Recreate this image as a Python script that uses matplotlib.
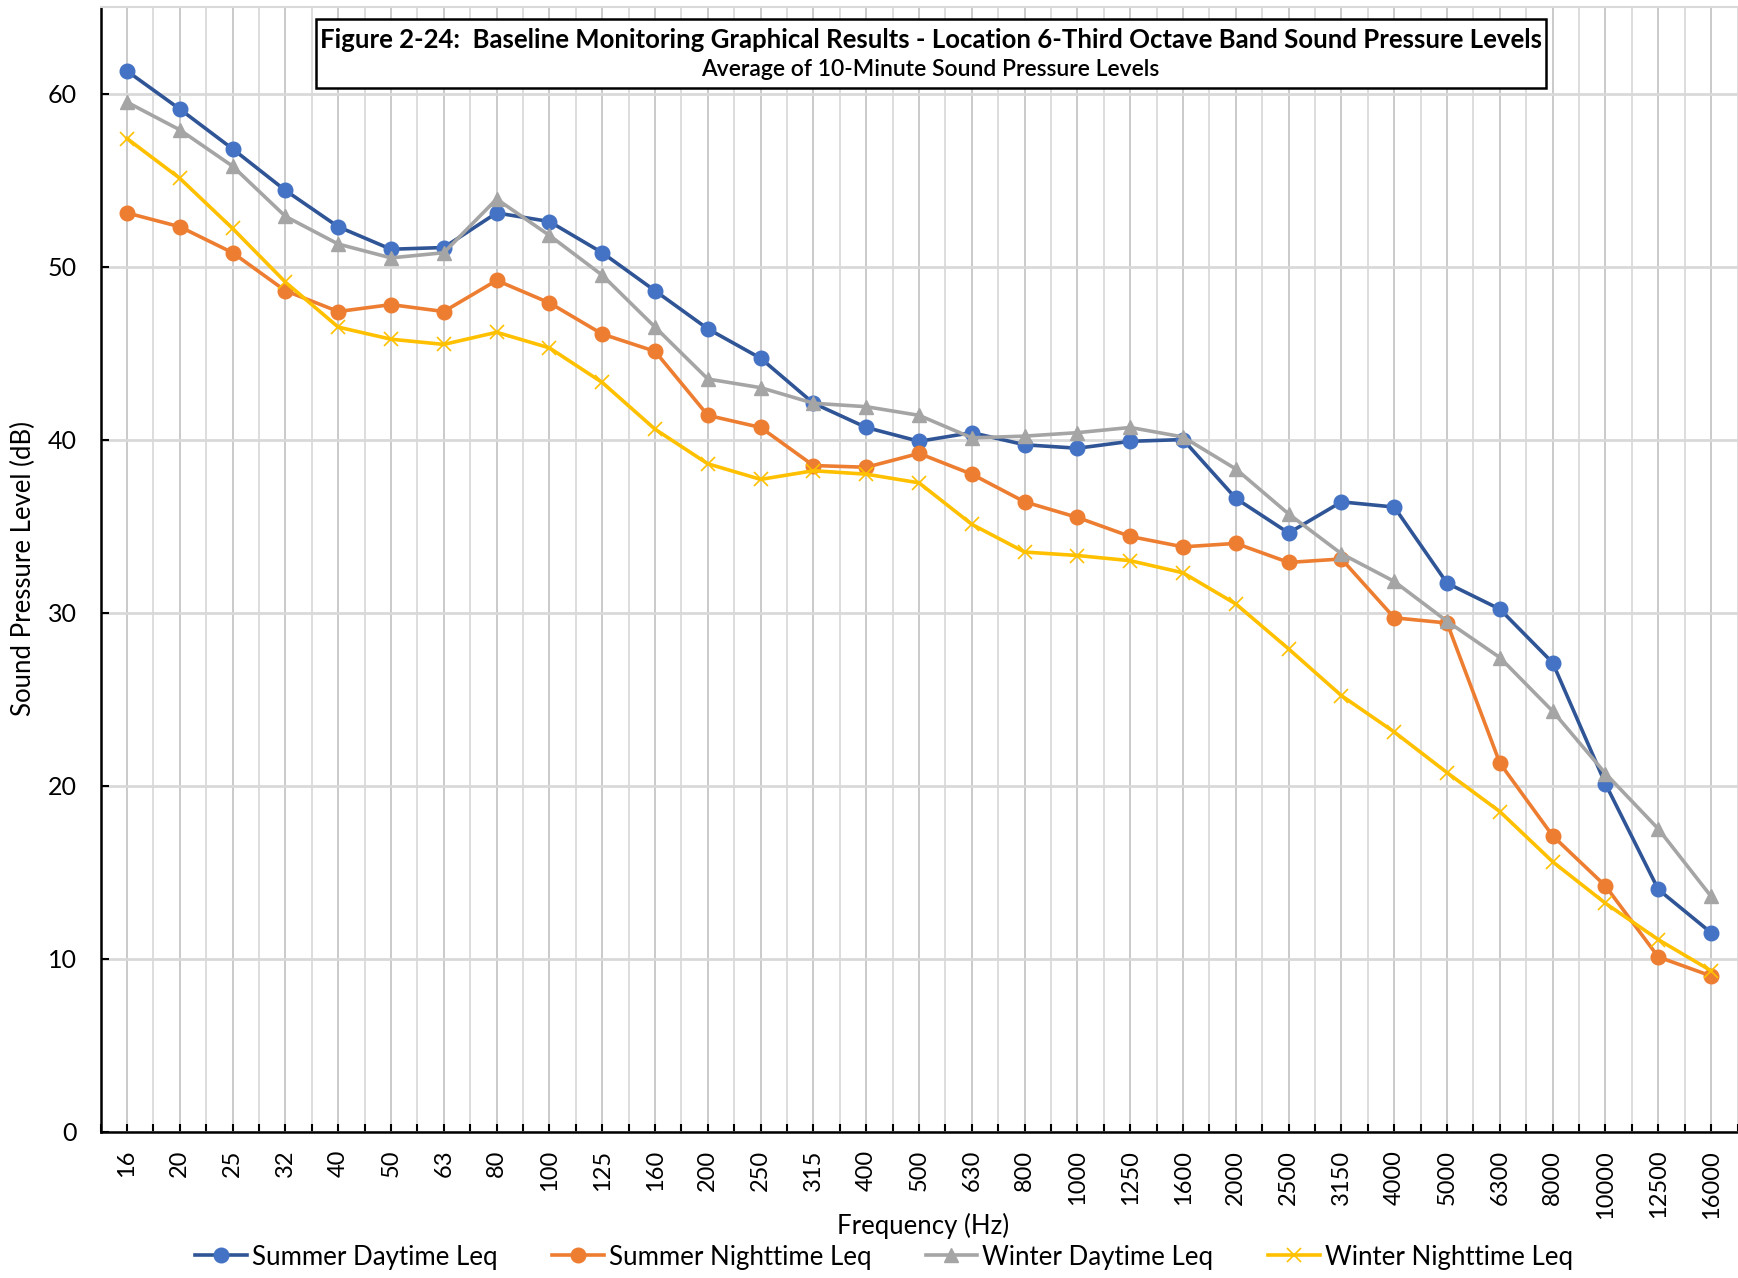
import matplotlib
matplotlib.use("Agg")
import matplotlib.pyplot as plt
from matplotlib.patches import Rectangle
import numpy as np

plt.rcParams['font.family'] = ['Lato', 'DejaVu Sans']

frequencies = ["16", "20", "25", "32", "40", "50", "63", "80", "100", "125", "160", "200",
               "250", "315", "400", "500", "630", "800", "1000", "1250", "1600", "2000",
               "2500", "3150", "4000", "5000", "6300", "8000", "10000", "12500", "16000"]

summer_day = [61.3, 59.1, 56.8, 54.4, 52.3, 51.0, 51.1, 53.1, 52.6, 50.8, 48.6, 46.4,
              44.7, 42.1, 40.7, 39.9, 40.4, 39.7, 39.5, 39.9, 40.0, 36.6,
              34.6, 36.4, 36.1, 31.7, 30.2, 27.1, 20.1, 14.0, 11.5]
summer_night = [53.1, 52.3, 50.8, 48.6, 47.4, 47.8, 47.4, 49.2, 47.9, 46.1, 45.1, 41.4,
                40.7, 38.5, 38.4, 39.2, 38.0, 36.4, 35.5, 34.4, 33.8, 34.0,
                32.9, 33.1, 29.7, 29.4, 21.3, 17.1, 14.2, 10.1, 9.0]
winter_day = [59.5, 57.9, 55.8, 52.9, 51.3, 50.5, 50.8, 53.9, 51.8, 49.5, 46.5, 43.5,
              43.0, 42.1, 41.9, 41.4, 40.1, 40.2, 40.4, 40.7, 40.15, 38.3,
              35.7, 33.4, 31.8, 29.5, 27.4, 24.3, 20.7, 17.5, 13.6]
winter_night = [57.4, 55.1, 52.2, 49.1, 46.5, 45.8, 45.5, 46.2, 45.3, 43.3, 40.6, 38.6,
                37.7, 38.2, 38.0, 37.5, 35.1, 33.5, 33.3, 33.0, 32.3, 30.5,
                27.9, 25.2, 23.1, 20.75, 18.5, 15.6, 13.2, 11.1, 9.3]

series_names = ["Summer Daytime Leq", "Summer Nighttime Leq", "Winter Daytime Leq", "Winter Nighttime Leq"]

W, H = 1738, 1278
fig = plt.figure(figsize=(W / 100, H / 100), dpi=100)
ax = fig.add_axes([100.6 / W, 1 - 1131.7 / H, (1737.5 - 100.6) / W, (1131.7 - 7) / H])

x = np.arange(len(frequencies))

ax.set_xlim(-0.5, len(frequencies) - 0.5)
ax.set_ylim(0, 65)
ax.set_yticks(np.arange(0, 61, 10))
ax.set_xticks(x)
ax.set_xticks(np.arange(-0.5, len(frequencies), 1.0), minor=True)
ax.set_xticklabels(frequencies, rotation=90, fontsize=17)
ax.tick_params(axis='x', which='both', direction='in', length=6, width=1.5, pad=13)
ax.tick_params(axis='y', which='both', direction='in', length=6, width=1.5, pad=17, labelsize=18)
ax.grid(axis='y', color='#d9d9d9', linewidth=2.0, zorder=0)
ax.grid(axis='x', which='major', color='#c6c6c6', linewidth=1.3, zorder=0)
ax.grid(axis='x', which='minor', color='#dadada', linewidth=1.3, zorder=0)
ax.set_axisbelow(True)

for s in ['left', 'bottom']:
    ax.spines[s].set_linewidth(1.8)
    ax.spines[s].set_color('black')
ax.spines['top'].set_color('#d9d9d9')
ax.spines['top'].set_linewidth(1.5)
ax.spines['right'].set_visible(False)

lw = 2.6
ms = 10.5
ax.plot(x, summer_day, color='#2F5597', linewidth=lw, marker='o', markersize=ms,
        markerfacecolor='#4472C4', markeredgecolor='#4472C4', label=series_names[0], zorder=3)
ax.plot(x, summer_night, color='#ED7D31', linewidth=lw, marker='o', markersize=ms,
        markerfacecolor='#ED7D31', markeredgecolor='#ED7D31', label=series_names[1], zorder=4)
ax.plot(x, winter_day, color='#A5A5A5', linewidth=lw, marker='^', markersize=ms,
        markerfacecolor='#A5A5A5', markeredgecolor='#A5A5A5', label=series_names[2], zorder=5)
ax.plot(x, winter_night, color='#FFC000', linewidth=lw, marker='x', markersize=ms,
        markeredgewidth=1.2, markeredgecolor='#FFC000', label=series_names[3], zorder=6)

fig.text(23 / W, 1 - 569 / H, "Sound Pressure Level (dB)", rotation=90,
         ha='center', va='center', fontsize=18.5)
fig.text(923 / W, 1 - 1226 / H, "Frequency (Hz)", ha='center', va='center', fontsize=18.5)

bx0, bx1, by0, by1 = 315.7, 1545.6, 19, 87.7
rect = Rectangle((bx0 / W, 1 - by1 / H), (bx1 - bx0) / W, (by1 - by0) / H,
                 transform=fig.transFigure, facecolor='white', edgecolor='black',
                 linewidth=1.8, zorder=10)
fig.patches.append(rect)
cx = (bx0 + bx1) / 2 / W
fig.text(cx, 1 - 40.5 / H, "Figure 2-24:  Baseline Monitoring Graphical Results - Location 6-Third Octave Band Sound Pressure Levels",
         ha='center', va='center', fontsize=18.5, fontweight='bold', zorder=11)
fig.text(cx, 1 - 70 / H, "Average of 10-Minute Sound Pressure Levels",
         ha='center', va='center', fontsize=16.5, fontweight='semibold', zorder=11)

handles, labels = ax.get_legend_handles_labels()
fig.legend(handles, labels, loc='center', bbox_to_anchor=(884 / W, 1 - 1257 / H),
           ncol=4, frameon=False, fontsize=18.6, handlelength=2.0, handletextpad=0.2,
           columnspacing=2.1, borderaxespad=0)

fig.savefig("out.png", dpi=100)
